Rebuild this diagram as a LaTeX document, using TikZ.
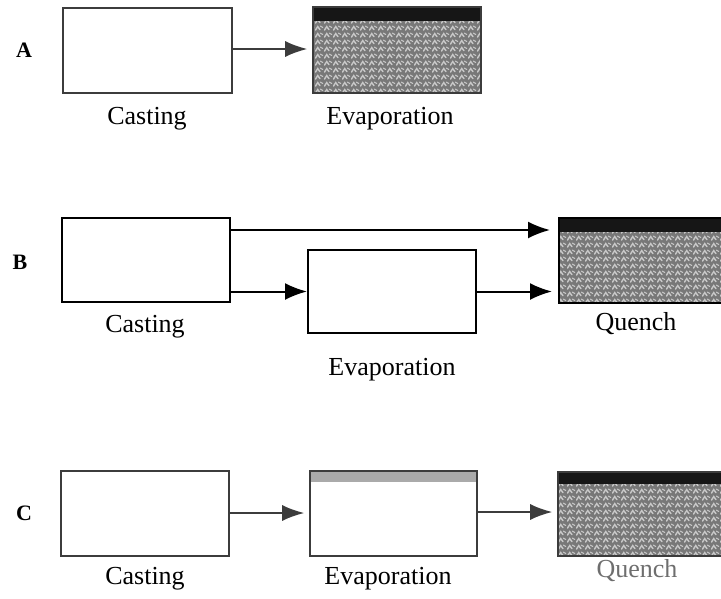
\documentclass[tikz,border=0pt]{standalone}
\usepackage{fontspec}
\setmainfont{Liberation Serif}
\usetikzlibrary{arrows.meta,patterns.meta,calc}
\definecolor{texgray}{RGB}{120,120,120}
\definecolor{texlight}{RGB}{200,200,200}
\definecolor{bandblack}{RGB}{22,22,22}
\definecolor{bandlight}{RGB}{170,170,170}
\definecolor{linegray}{RGB}{60,60,60}
\definecolor{quenchgray}{RGB}{110,110,110}
\tikzdeclarepattern{
  name=weave,
  type=uncolored,
  bottom left={(0pt,0pt)},
  top right={(9pt,7pt)},
  tile size={(9pt,7pt)},
  code={
    \draw[line width=1.6pt, line cap=round] (0.5pt,1pt) -- (3pt,5pt) -- (5.5pt,1.5pt);
    \draw[line width=1.2pt, line cap=round] (6pt,5.5pt) -- (8.5pt,4pt);
  }
}
\tikzset{
  plainbox/.style={draw, line width=2pt, fill=white, inner sep=0pt},
  graybox/.style={draw=linegray, line width=1.6pt, fill=white, inner sep=0pt},
  texbox/.style={draw=linegray, line width=1.6pt, inner sep=0pt,
    preaction={fill=texgray}, pattern=weave, pattern color=texlight},
  darkband/.style={path picture={\fill[bandblack] (path picture bounding box.north west) rectangle ([yshift=-#1]path picture bounding box.north east);}},
  lightband/.style={path picture={\fill[bandlight] (path picture bounding box.north west) rectangle ([yshift=-#1]path picture bounding box.north east);}},
  lbl/.style={font=\fontsize{26}{30}\selectfont, anchor=base, inner sep=0pt},
  rowlbl/.style={font=\fontsize{22}{26}\selectfont\bfseries, anchor=base, inner sep=0pt},
  arrB/.style={line width=2pt, -{Latex[length=22pt,width=17pt]}},
  arrG/.style={draw=linegray, line width=1.6pt, -{Latex[length=22pt,width=16pt, fill=linegray]}},
}
\begin{document}
\begin{tikzpicture}[x=1pt,y=-1pt]
\useasboundingbox (0,0) rectangle (721,598);
% Row A
\node[rowlbl] (la) at (24,57) {A};
\node[graybox, minimum width=169pt, minimum height=85pt] (castA) at (147.5,50.5) {};
\node[texbox, darkband=14pt, minimum width=168pt, minimum height=86pt] (evapA) at (397,50) {};
\node[lbl] (tcastA) at (147,124) {Casting};
\node[lbl] (tevapA) at (390,124) {Evaporation};
\draw[arrG, shorten >=5pt] (castA.east |- 0,49) coordinate (a1) -- (evapA.west |- a1);
% Row B
\node[rowlbl] (lb) at (20,269) {B};
\node[plainbox, minimum width=168pt, minimum height=84pt] (castB) at (146,260) {};
\node[plainbox, minimum width=168pt, minimum height=83pt] (evapB) at (392,291.5) {};
\node[texbox, draw=black, line width=2pt, darkband=14pt, minimum width=170pt, minimum height=85pt] (quenchB) at (644,260.5) {};
\node[lbl] (tcastB) at (145,332) {Casting};
\node[lbl] (tevapB) at (392,375) {Evaporation};
\node[lbl] (tquenchB) at (636,330) {Quench};
\draw[arrB, shorten >=8pt] ([yshift=-13pt]castB.north east) -- ([yshift=-13pt]quenchB.north west);
\draw[arrB] (castB.east |- evapB.west) -- (evapB.west);
\draw[arrB, shorten >=6pt] (evapB.east) -- (evapB.east -| quenchB.west);
% Row C
\node[rowlbl] (lc) at (24,520) {C};
\node[graybox, minimum width=168pt, minimum height=85pt] (castC) at (145,513.5) {};
\node[graybox, lightband=11pt, minimum width=167pt, minimum height=85pt] (evapC) at (393.5,513.5) {};
\node[texbox, darkband=12pt, minimum width=170pt, minimum height=84pt] (quenchC) at (643,514) {};
\node[lbl] (tcastC) at (145,584) {Casting};
\node[lbl] (tevapC) at (388,584) {Evaporation};
\node[lbl, text=quenchgray] (tquenchC) at (637,577) {Quench};
\draw[arrG, shorten >=5pt] (castC.east |- 0,513) coordinate (c1) -- (evapC.west |- c1);
\draw[arrG, shorten >=5pt] (evapC.east |- 0,512) coordinate (c2) -- (quenchC.west |- c2);
\end{tikzpicture}
\end{document}
